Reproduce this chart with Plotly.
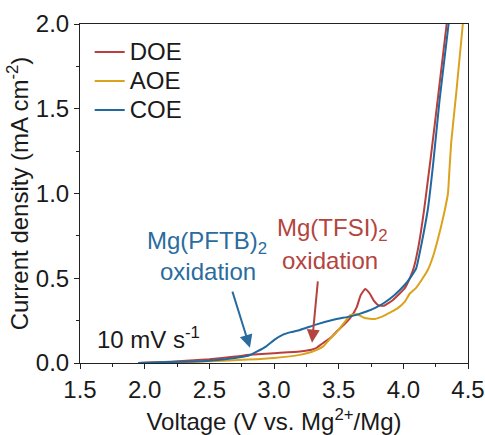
import plotly.graph_objects as go

# Linear sweep voltammetry, 10 mV/s
doe_v = [1.95, 2.2, 2.5, 2.7, 2.81, 3.0, 3.2, 3.29, 3.33, 3.38, 3.44, 3.49, 3.54, 3.59, 3.64, 3.67, 3.705,
         3.74, 3.77, 3.81, 3.85, 3.92, 4.01, 4.05, 4.08, 4.12, 4.16, 4.19, 4.21, 4.27, 4.335]
doe_i = [0.0, 0.008, 0.022, 0.038, 0.048, 0.058, 0.068, 0.078, 0.09, 0.118, 0.15, 0.19, 0.225, 0.266, 0.33, 0.40, 0.437,
         0.41, 0.37, 0.34, 0.338, 0.372, 0.44, 0.5, 0.56, 0.7, 0.9, 1.08, 1.2, 1.58, 2.0]

aoe_v = [1.95, 2.3, 2.5, 2.8, 3.0, 3.2, 3.29, 3.34, 3.38, 3.43, 3.49, 3.54, 3.59, 3.64, 3.7, 3.78, 3.84, 3.9,
         3.96, 4.01, 4.05, 4.1, 4.15, 4.19, 4.23, 4.26, 4.29, 4.32, 4.345, 4.355, 4.37, 4.41, 4.46]
aoe_i = [0.0, 0.005, 0.01, 0.02, 0.03, 0.048, 0.065, 0.08, 0.098, 0.14, 0.187, 0.235, 0.283, 0.288, 0.265, 0.26, 0.275, 0.298,
         0.325, 0.36, 0.41, 0.445, 0.5, 0.55, 0.63, 0.71, 0.8, 0.9, 1.0, 1.12, 1.3, 1.6, 2.0]

coe_v = [1.95, 2.1, 2.3, 2.5, 2.65, 2.75, 2.81, 2.87, 2.94, 3.0, 3.07, 3.13, 3.2, 3.33, 3.46, 3.59, 3.65, 3.72,
         3.79, 3.85, 3.93, 4.01, 4.06, 4.1, 4.14, 4.19, 4.23, 4.28, 4.35]
coe_i = [0.0, 0.004, 0.008, 0.014, 0.025, 0.035, 0.045, 0.068, 0.098, 0.135, 0.167, 0.182, 0.195, 0.228, 0.255, 0.275, 0.287, 0.305,
         0.328, 0.354, 0.4, 0.46, 0.51, 0.56, 0.7, 0.91, 1.17, 1.55, 2.0]

series = [
    ("DOE", doe_v, doe_i, "#B93F3D"),
    ("AOE", aoe_v, aoe_i, "#DCA21E"),
    ("COE", coe_v, coe_i, "#1F68A0"),
]

FONT = "Arial, Liberation Sans, sans-serif"
FS = 24

fig = go.Figure()
for name, v, i, color in series:
    fig.add_trace(go.Scatter(x=v, y=i, mode="lines",
                             name=f'<span style="font-size:{FS}px">{name}</span>',
                             line=dict(color=color, width=2, shape="spline", smoothing=0.4),
                             cliponaxis=True))

axis_common = dict(
    showline=True, linecolor="#222", linewidth=1, mirror=True,
    showgrid=False, zeroline=False, automargin=False,
    ticks="outside", ticklen=5, tickwidth=1, tickcolor="#222",
    tickfont=dict(family=FONT, size=FS, color="#1a1a1a"),
    minor=dict(ticks="outside", ticklen=3, tickwidth=1, tickcolor="#222"),
)

fig.update_xaxes(range=[1.5, 4.5], tick0=1.5, dtick=0.5, tickformat=".1f",
                 minor_dtick=0.25,
                 title=dict(text="Voltage (V vs. Mg<sup>2+</sup>/Mg)",
                            font=dict(family=FONT, size=FS, color="#1a1a1a"), standoff=16),
                 **axis_common)
fig.update_yaxes(range=[0, 2.0], tick0=0, dtick=0.5, tickformat=".1f",
                 minor_dtick=0.25,
                 title=dict(text="Current density (mA cm<sup>-2</sup>)",
                            font=dict(family=FONT, size=FS, color="#1a1a1a"), standoff=0),
                 **axis_common)

# Text labels with arrows pointing at the oxidation onsets
labels = [
    dict(text="Mg(PFTB)<sub>2</sub>", x=2.483, y=0.71, color="#2A6C9E"),
    dict(text="oxidation", x=2.49, y=0.538, color="#2A6C9E"),
    dict(text="Mg(TFSI)<sub>2</sub>", x=3.45, y=0.79, color="#B4443F"),
    dict(text="oxidation", x=3.43, y=0.607, color="#B4443F"),
]
for lb in labels:
    fig.add_annotation(x=lb["x"], y=lb["y"], text=lb["text"], showarrow=False,
                       font=dict(family=FONT, size=FS, color=lb["color"]),
                       xanchor="center", yanchor="middle")

arrows = [
    dict(x=2.814, y=0.09, ax=2.675, ay=0.43, color="#2A6C9E"),
    dict(x=3.294, y=0.12, ax=3.34, ay=0.49, color="#B4443F"),
]
for ar in arrows:
    fig.add_annotation(x=ar["x"], y=ar["y"], ax=ar["ax"], ay=ar["ay"],
                       xref="x", yref="y", axref="x", ayref="y", text="",
                       showarrow=True, arrowhead=2, arrowsize=1.3, arrowwidth=2,
                       arrowcolor=ar["color"])

fig.add_annotation(x=1.615, y=0.15, text="10 mV s<sup>-1</sup>", showarrow=False,
                   xanchor="left", yanchor="middle",
                   font=dict(family=FONT, size=FS, color="#1a1a1a"))

fig.update_layout(
    width=485, height=435,
    margin=dict(l=80, r=17, t=24, b=72),
    paper_bgcolor="white", plot_bgcolor="white",
    showlegend=True,
    legend=dict(x=0.025, y=0.975, xanchor="left", yanchor="top",
                bgcolor="rgba(0,0,0,0)", borderwidth=0,
                font=dict(family=FONT, size=20, color="#1a1a1a"),
                tracegroupgap=0, itemwidth=30),
)

fig.write_html("out.html")
